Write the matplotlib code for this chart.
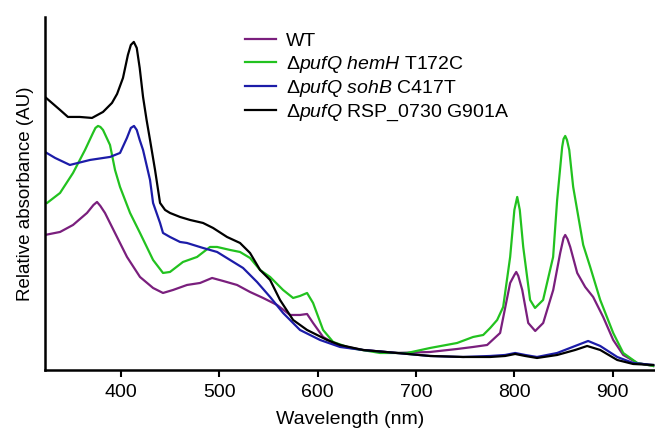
import matplotlib
matplotlib.use("Agg")
import matplotlib.pyplot as plt

plt.rcParams["font.family"] = ["Liberation Sans", "DejaVu Sans"]
plt.rcParams["mathtext.fontset"] = "custom"
plt.rcParams["mathtext.rm"] = "Liberation Sans"
plt.rcParams["mathtext.it"] = "Liberation Sans:italic"

# spectra (wavelength nm, relative absorbance AU)
wt_nm = [322.7, 338, 351.2, 365.4, 372, 375.6, 379, 383.7, 395.9, 406.1, 419.3, 432.6,
         442.7, 452.9, 467.1, 480.4, 492.6, 503.8, 518, 531.2, 544.5, 558.7, 571.9, 582,
         589.2, 595.3, 605.5, 619.7, 646, 680.7, 714.3, 741.8, 758, 772.3, 785.5, 795.7,
         800, 801.9, 804, 808, 814.1, 821.2, 829.3, 839.5, 846.6, 850, 851.7, 854,
         856.8, 863.9, 872, 880.1, 890.3, 900.5, 910.7, 924.9, 941.2]
wt_abs = [1.35, 1.38, 1.45, 1.57, 1.65, 1.68, 1.64, 1.57, 1.33, 1.13, 0.93, 0.82,
          0.77, 0.80, 0.85, 0.87, 0.92, 0.89, 0.85, 0.78, 0.72, 0.65, 0.55, 0.55,
          0.56, 0.47, 0.33, 0.25, 0.20, 0.17, 0.18, 0.21, 0.23, 0.25, 0.37, 0.87,
          0.95, 0.98, 0.94, 0.80, 0.47, 0.39, 0.47, 0.80, 1.17, 1.32, 1.35, 1.31,
          1.23, 0.97, 0.83, 0.73, 0.53, 0.30, 0.15, 0.07, 0.04]

hemh_nm = [324.8, 338, 351.2, 363.4, 371.5, 374, 376.6, 379, 381.7, 388.8, 393.9, 399,
           409.2, 419.3, 432.6, 442.7, 449.8, 463, 477.3, 490.5, 497.7, 510.9, 521, 531.2,
           541.4, 551.6, 564.8, 575, 582, 589.2, 595.3, 605.5, 615.7, 633, 663.5, 691,
           714.3, 741.8, 758, 768.3, 775.4, 782.5, 788.6, 795.7, 800, 802.9, 805.5, 809,
           816, 821, 829.2, 839.4, 843.5, 848.6, 850, 851.7, 853.5, 855.8, 859.8, 870,
           877.1, 887.3, 900.5, 910.7, 924.9, 941.2]
hemh_abs = [1.67, 1.77, 1.97, 2.20, 2.37, 2.42, 2.44, 2.43, 2.40, 2.25, 2.00, 1.83,
            1.57, 1.37, 1.10, 0.97, 0.98, 1.08, 1.13, 1.23, 1.23, 1.20, 1.18, 1.12,
            1.00, 0.93, 0.80, 0.72, 0.74, 0.77, 0.67, 0.40, 0.28, 0.22, 0.17, 0.17,
            0.22, 0.27, 0.33, 0.35, 0.42, 0.50, 0.63, 1.13, 1.60, 1.73, 1.60, 1.23,
            0.70, 0.62, 0.70, 1.13, 1.70, 2.23, 2.31, 2.34, 2.30, 2.20, 1.83, 1.25,
            1.03, 0.70, 0.37, 0.17, 0.07, 0.04]

sohb_nm = [322.7, 333, 348, 368.5, 388.8, 399, 406, 410, 413.2, 416, 419, 422.4,
           429.5, 432.6, 439.7, 442.7, 449.8, 460, 467, 483.4, 497.7, 510.9, 524.1, 538.3,
           551.6, 564.8, 582, 602.4, 622.8, 646, 680.7, 714.3, 747.8, 775.4, 790.6, 800.8,
           811, 823, 843.5, 861.8, 875, 887.3, 904.6, 920.8, 941.2]
sohb_abs = [2.18, 2.12, 2.05, 2.10, 2.13, 2.17, 2.32, 2.42, 2.44, 2.40, 2.30, 2.20,
            1.90, 1.67, 1.47, 1.37, 1.33, 1.28, 1.27, 1.22, 1.18, 1.10, 1.02, 0.88,
            0.73, 0.57, 0.40, 0.30, 0.23, 0.20, 0.17, 0.14, 0.13, 0.14, 0.15, 0.17,
            0.15, 0.13, 0.17, 0.24, 0.29, 0.24, 0.13, 0.07, 0.05]

rsp_nm = [322.7, 338, 346, 358, 370.5, 381.7, 390.8, 396, 402, 407, 410, 413,
          416, 419, 422.4, 426, 429.5, 434.6, 439.7, 444.8, 449.8, 460, 470.2, 483.4,
          493.6, 507.8, 521, 531.2, 541.4, 551.6, 561.7, 575, 589.2, 609.6, 622.8, 646,
          680.7, 714.3, 747.8, 775.4, 790.6, 800.8, 811, 823, 843.5, 861.8, 874, 887.3,
          904.6, 920.8, 941.2]
rsp_abs = [2.73, 2.60, 2.53, 2.53, 2.52, 2.58, 2.67, 2.76, 2.92, 3.15, 3.25, 3.28,
           3.22, 3.02, 2.73, 2.50, 2.30, 2.00, 1.67, 1.60, 1.57, 1.53, 1.50, 1.47,
           1.42, 1.33, 1.27, 1.17, 1.00, 0.90, 0.70, 0.50, 0.40, 0.30, 0.25, 0.20,
           0.17, 0.14, 0.13, 0.13, 0.14, 0.16, 0.14, 0.12, 0.15, 0.20, 0.24, 0.20,
           0.10, 0.06, 0.05]

labels = ["WT",
          r"$\Delta\mathit{pufQ\ hemH}$ T172C",
          r"$\Delta\mathit{pufQ\ sohB}$ C417T",
          r"$\Delta\mathit{pufQ}$ RSP_0730 G901A"]
colors = ["#7a1f7d", "#22c21f", "#1c1ca8", "#000000"]

fig = plt.figure(figsize=(6.55, 4.34), dpi=100)
ax = fig.add_axes([0.0687, 0.1475, 0.9313, 0.8135])

series = [(wt_nm, wt_abs), (hemh_nm, hemh_abs), (sohb_nm, sohb_abs), (rsp_nm, rsp_abs)]
for (x, y), lab, c in zip(series, labels, colors):
    ax.plot(x, y, color=c, lw=1.6, label=lab, solid_joinstyle="round")

ax.set_xlim(322.7, 943)
ax.set_ylim(0, 3.53)
ax.set_xticks([400, 500, 600, 700, 800, 900])
ax.set_yticks([])
ax.tick_params(axis="x", labelsize=14, length=5, width=1.5, direction="out", pad=5)
for s in ["top", "right"]:
    ax.spines[s].set_visible(False)
for s in ["left", "bottom"]:
    ax.spines[s].set_linewidth(1.8)
ax.set_xlabel("Wavelength (nm)", fontsize=14, labelpad=7)
ax.set_ylabel("Relative absorbance (AU)", fontsize=13.5, labelpad=8)

ax.legend(loc="upper left", bbox_to_anchor=(0.374, 0.925), bbox_transform=fig.transFigure,
          frameon=False, fontsize=14, handlelength=1.6, handletextpad=0.5,
          labelspacing=0.18, borderpad=0, borderaxespad=0)

fig.savefig("out.png", dpi=100)
